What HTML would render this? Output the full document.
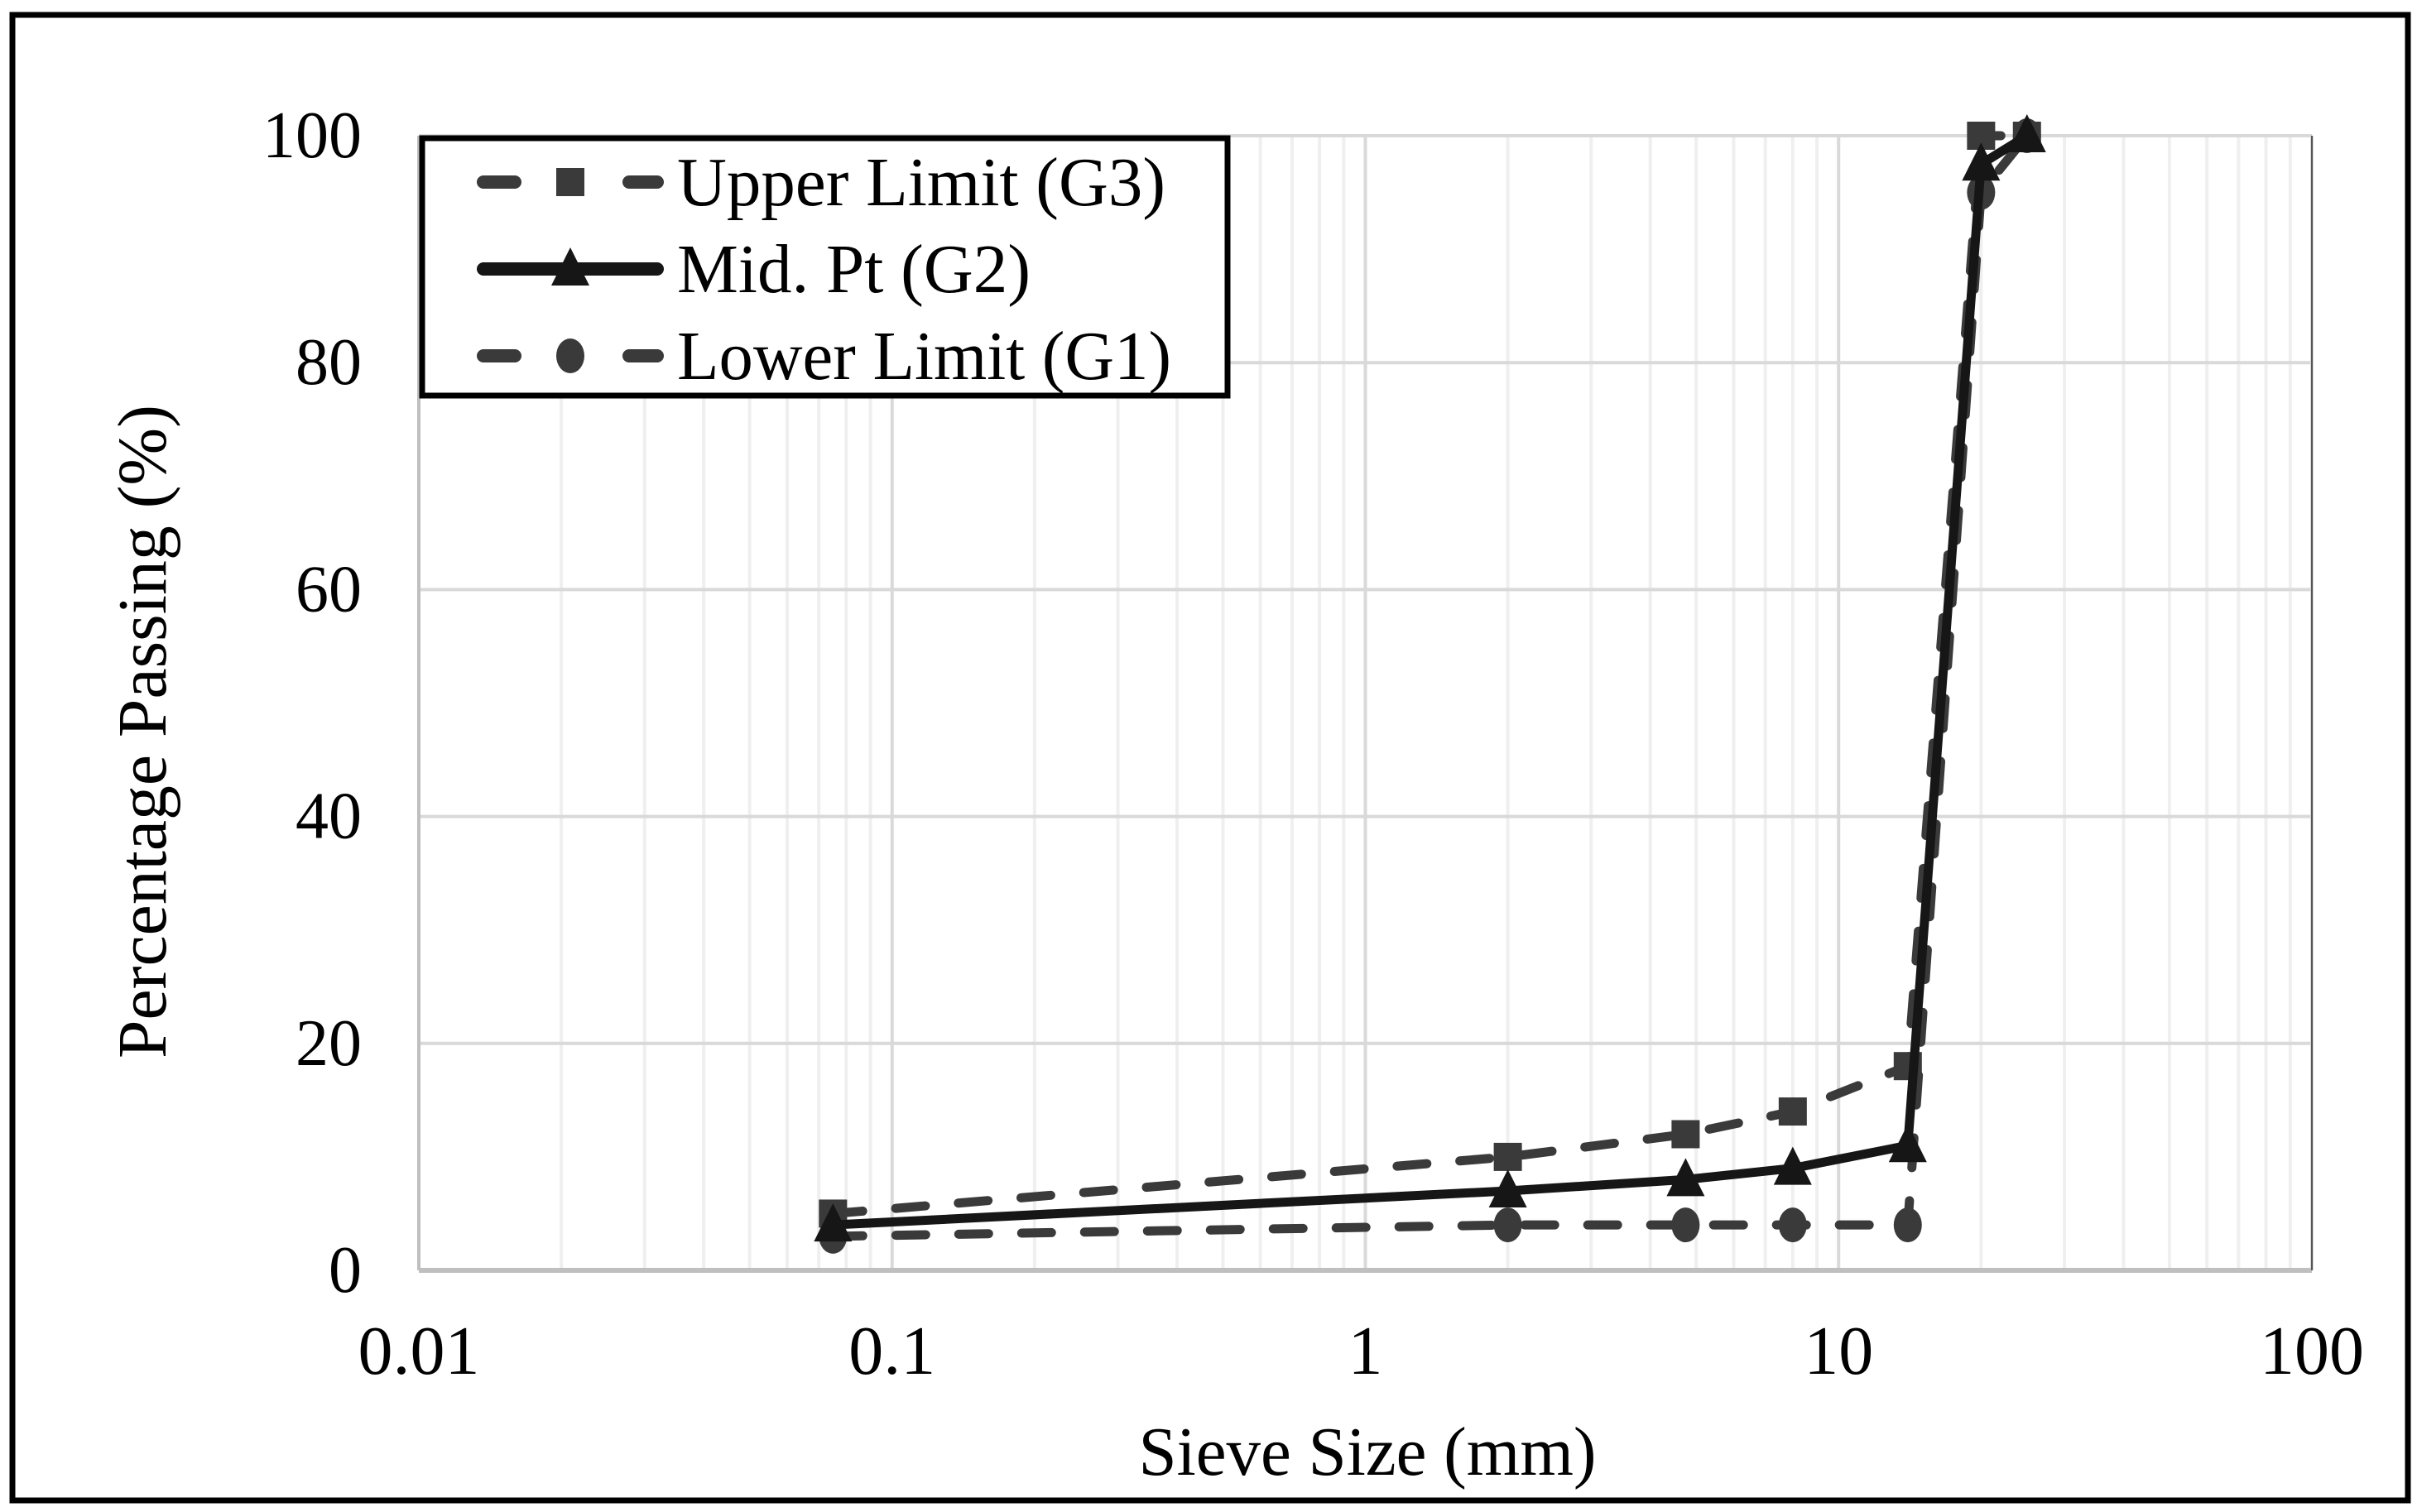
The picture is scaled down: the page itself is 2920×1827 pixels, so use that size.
<!DOCTYPE html>
<html><head><meta charset="utf-8"><style>
html,body{margin:0;padding:0;background:#fff;}
svg{display:block;font-family:"Liberation Serif",serif;}
</style></head><body>
<svg id="chart" width="2920" height="1827" viewBox="0 0 2920 1827" xmlns="http://www.w3.org/2000/svg">
<rect x="15" y="18" width="2894" height="1795" fill="#fff" stroke="#000" stroke-width="7"/>
<g id="grid"></g>
<g id="axes"></g>
<g id="series"></g>
<g id="legend"></g>
<text transform="translate(200,884) rotate(-90)" text-anchor="middle" font-size="84" textLength="790" lengthAdjust="spacingAndGlyphs">Percentage Passing (%)</text>
<text x="1652" y="1782" text-anchor="middle" font-size="84" textLength="553" lengthAdjust="spacingAndGlyphs">Sieve Size (mm)</text>
</svg>
<script>
const sieveSizes = [0.075, 2, 4.75, 8, 14, 20, 25];
const upperLimit = [5, 10, 12, 14, 18, 100, 100];
const midPoint = [4, 7, 8, 9, 11, 97.5, 100];
const lowerLimit = [3, 4, 4, 4, 4, 95, 100];
const yTicks = [0, 20, 40, 60, 80, 100];
const xTicks = [0.01, 0.1, 1, 10, 100];
const xTickLabels = ["0.01", "0.1", "1", "10", "100"];

const NS = "http://www.w3.org/2000/svg";
const L = 506, R = 2793, T = 164, B = 1535;
function xs(v){ return L + (Math.log10(v) + 2) / 4 * (R - L); }
function ys(v){ return B - v / 100 * (B - T); }
function mk(tag, attrs, parent){ const e = document.createElementNS(NS, tag); for (const k in attrs) e.setAttribute(k, attrs[k]); parent.appendChild(e); return e; }

const grid = document.getElementById('grid');
for (let d = -2; d < 2; d++) {
  for (let m = 2; m <= 9; m++) {
    const x = xs(m * Math.pow(10, d));
    const g = mk('line', {x1: x, x2: x, y1: T, y2: B, stroke: '#efefef', 'stroke-width': 4}, grid);
    
    
  }
}
xTicks.forEach(v => {
  const x = xs(v);
  const g = mk('line', {x1: x, x2: x, y1: T, y2: B, stroke: '#d9d9d9', 'stroke-width': 4}, grid);
  
  
});
yTicks.forEach(v => {
  const y = ys(v);
  const g = mk('line', {x1: L, x2: R, y1: y, y2: y, stroke: '#d9d9d9', 'stroke-width': 4}, grid);
  
  
});

const axes = document.getElementById('axes');
let a = mk('line', {x1: L, x2: R, y1: B, y2: B, stroke: '#bfbfbf', 'stroke-width': 6}, axes);


a = mk('line', {x1: L, x2: L, y1: T, y2: B, stroke: '#bfbfbf', 'stroke-width': 4}, axes);


a = mk('line', {x1: R, x2: R, y1: T, y2: B, stroke: '#555', 'stroke-width': 2}, axes);


yTicks.forEach(v => {
  const t = mk('text', {x: 437, y: ys(v) + 26, 'text-anchor': 'end', 'font-size': 80}, axes);
  t.textContent = v;
  
  
});
xTicks.forEach((v, i) => {
  const t = mk('text', {x: xs(v), y: 1660, 'text-anchor': 'middle', 'font-size': 84}, axes);
  t.textContent = xTickLabels[i];
  
  
});

const series = document.getElementById('series');
function marker(type, x, y, color, parent){
  let m;
  if (type === 'square') m = mk('rect', {x: x - 17, y: y - 17, width: 34, height: 34, fill: color}, parent);
  else if (type === 'tri') m = mk('polygon', {points: `${x},${y-26} ${x+23},${y+20} ${x-23},${y+20}`, fill: color}, parent);
  else m = mk('ellipse', {cx: x, cy: y, rx: 17, ry: 21, fill: color}, parent);
  return m;
}
function drawSeries(vals, color, dash, type, name){
  const g = mk('g', {}, series);
  
  
  const pts = vals.map((v, i) => xs(sieveSizes[i]) + ',' + ys(v)).join(' ');
  const p = mk('polyline', {points: pts, fill: 'none', stroke: color, 'stroke-width': 11, 'stroke-dasharray': dash, 'stroke-linecap': 'round', 'stroke-linejoin': 'round'}, g);
  
  
  vals.forEach((v, i) => {
    const m = marker(type, xs(sieveSizes[i]), ys(v), color, g);
    
    
  });
}
drawSeries(lowerLimit, '#3a3a3a', '36 40', 'circle', 'lower-limit-series');
drawSeries(upperLimit, '#3a3a3a', '36 40', 'square', 'upper-limit-series');
drawSeries(midPoint, '#161616', 'none', 'tri', 'mid-point-series');

const legend = document.getElementById('legend');
let lb = mk('rect', {x: 510, y: 167, width: 973, height: 311, fill: '#fff', stroke: '#000', 'stroke-width': 7}, legend);


const legendItems = [
  ['Upper Limit (G3)', '#3a3a3a', true, 'square', 220, 590],
  ['Mid. Pt (G2)', '#161616', false, 'tri', 325, 427],
  ['Lower Limit (G1)', '#3a3a3a', true, 'circle', 430, 597]
];
legendItems.forEach(([label, color, dashed, type, y, w]) => {
  const g = mk('g', {}, legend);
  
  
  if (dashed) {
    mk('line', {x1: 584, x2: 622, y1: y, y2: y, stroke: color, 'stroke-width': 16, 'stroke-linecap': 'round'}, g);
    mk('line', {x1: 760, x2: 794, y1: y, y2: y, stroke: color, 'stroke-width': 16, 'stroke-linecap': 'round'}, g);
  } else {
    mk('line', {x1: 584, x2: 794, y1: y, y2: y, stroke: color, 'stroke-width': 16, 'stroke-linecap': 'round'}, g);
  }
  marker(type, 689, y, color, g);
  const t = mk('text', {x: 818, y: y + 28, 'font-size': 84, textLength: w, lengthAdjust: 'spacingAndGlyphs'}, g);
  t.textContent = label;
  
  
});
</script>
</body></html>
